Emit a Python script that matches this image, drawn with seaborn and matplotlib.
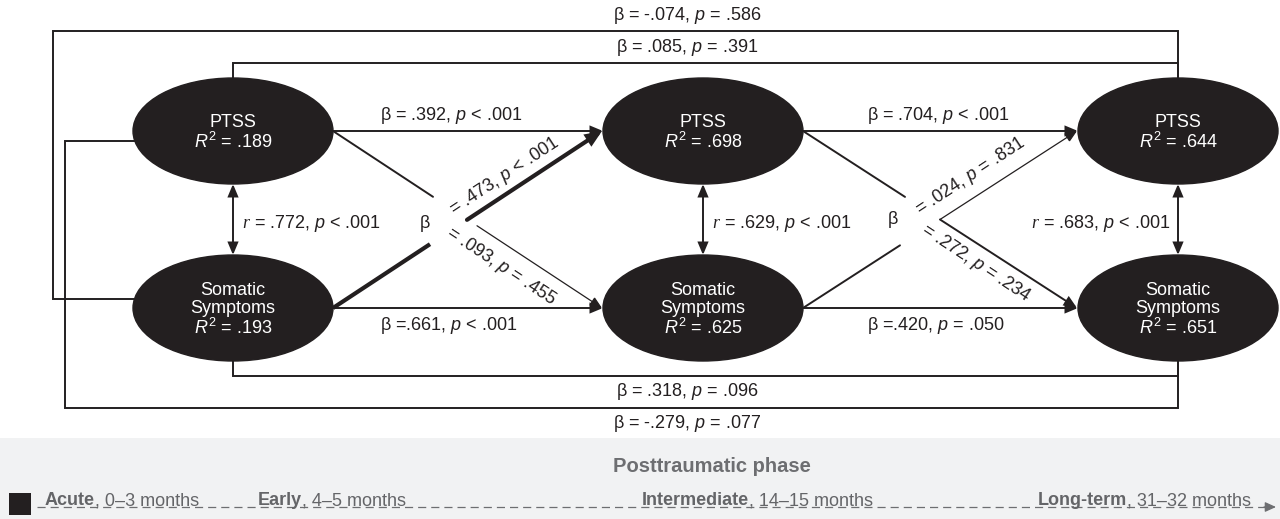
import numpy as np
import pandas as pd
import matplotlib
matplotlib.use("Agg")
import matplotlib.pyplot as plt
from matplotlib.patches import Ellipse, FancyArrowPatch, Rectangle
import seaborn as sns

# ---------------- data ----------------
constructs = ["PTSS", "Somatic\nSymptoms"]
r2_ptss = [".189", ".698", ".644"]
r2_som = [".193", ".625", ".651"]
r_within = [".772", ".629", ".683"]
p_within = ["< .001", "< .001", "< .001"]
ar_ptss_beta = [".392", ".704"]
ar_ptss_p = ["< .001", "< .001"]
ar_som_beta = [".661", ".420"]
ar_som_p = ["< .001", "= .050"]
cross_som_to_ptss_beta = [".473", ".024"]
cross_som_to_ptss_p = ["< .001", "= .831"]
cross_ptss_to_som_beta = [".093", ".272"]
cross_ptss_to_som_p = ["= .455", "= .234"]
long_beta = ["-.074", ".085", ".318", "-.279"]   # Som1->PTSS3, PTSS1->PTSS3, Som1->Som3, PTSS1->Som3
long_p = ["= .586", "= .391", "= .096", "= .077"]
phases = ["Acute", "Early", "Intermediate", "Long-term"]
phase_ranges = ["0–3 months", "4–5 months", "14–15 months", "31–32 months"]
phase_title = "Posttraumatic phase"

# ---------------- style ----------------
sns.set_theme(style="white")
plt.rcParams["font.family"] = ["Liberation Sans", "DejaVu Sans"]
plt.rcParams["mathtext.fontset"] = "custom"
plt.rcParams["mathtext.rm"] = "Liberation Sans"
plt.rcParams["mathtext.it"] = "Liberation Sans:italic"
plt.rcParams["mathtext.bf"] = "Liberation Sans:bold"
plt.rcParams["mathtext.sf"] = "Liberation Serif:italic"

INK = "#231f20"
GREY = "#646568"
FS = 13

fig = plt.figure(figsize=(12.8, 5.19), dpi=100)
ax = fig.add_axes([0, 0, 1, 1])
ax.set_xlim(0, 1280)
ax.set_ylim(519, 0)
ax.axis("off")

# layout
col_x = [233, 703, 1178]
row_y = [131, 308]
EW, EH = 200, 106


def arrow(p0, p1, lw=1.4, style="-|>", z=2):
    a = FancyArrowPatch(p0, p1, arrowstyle=style + ",head_length=0.6,head_width=0.25",
                        mutation_scale=12, shrinkA=0, shrinkB=0, lw=lw, color=INK,
                        zorder=z, joinstyle="miter")
    ax.add_patch(a)


def pt_at_x(p0, p1, x):
    t = (x - p0[0]) / (p1[0] - p0[0])
    return (x, p0[1] + t * (p1[1] - p0[1]))


# ---------------- nodes ----------------
for i, x in enumerate(col_x):
    for j, y in enumerate(row_y):
        ax.add_patch(Ellipse((x, y), EW, EH, facecolor=INK, edgecolor=INK, zorder=3))
        r2 = r2_ptss[i] if j == 0 else r2_som[i]
        ax.text(x, y + 2, f"{constructs[j]}\n$R^2$ = {r2}", color="white", fontsize=FS,
                ha="center", va="center", linespacing=1.05, zorder=4)

# ---------------- long range connectors ----------------
lw_c = 1.4
paths = [
    [(150, 299), (53, 299), (53, 31), (col_x[2], 31), (col_x[2], 100)],
    [(col_x[0], 110), (col_x[0], 63), (col_x[2], 63), (col_x[2], 100)],
    [(col_x[0], 330), (col_x[0], 376), (col_x[2], 376), (col_x[2], 330)],
    [(150, 141), (65, 141), (65, 408), (col_x[2], 408), (col_x[2], 330)],
]
for path in paths:
    xs, ys = zip(*path)
    ax.plot(xs, ys, color=INK, lw=lw_c, zorder=1, solid_joinstyle="miter")

long_y = [15, 47, 392, 424]
for b, p, y in zip(long_beta, long_p, long_y):
    ax.text(687, y, f"β = {b}, $p$ {p}", fontsize=FS, color=INK, ha="center", va="center")

# ---------------- autoregressive paths ----------------
for k in range(2):
    xa = col_x[k] + EW / 2
    xb = col_x[k + 1] - EW / 2
    arrow((xa, row_y[0]), (xb, row_y[0]))
    arrow((xa, row_y[1]), (xb, row_y[1]))
lab_x = [380, 867]
for k in range(2):
    ax.text(lab_x[k], 115, f"β = {ar_ptss_beta[k]}, $p$ {ar_ptss_p[k]}", fontsize=FS,
            color=INK, ha="left", va="center")
    ax.text(lab_x[k], 325, f"β ={ar_som_beta[k]}, $p$ {ar_som_p[k]}", fontsize=FS,
            color=INK, ha="left", va="center")

# ---------------- within-wave correlations ----------------
for i, x in enumerate(col_x):
    arrow((x, row_y[0] + EH / 2), (x, row_y[1] - EH / 2), style="<|-|>")
r_pos = [(242, "left"), (712, "left"), (1170, "right")]
for i, (xx, ha) in enumerate(r_pos):
    ax.text(xx, 223, f"$\\mathsf{{r}}$ = {r_within[i]}, $p$ {p_within[i]}", fontsize=FS,
            color=INK, ha=ha, va="center")

# ---------------- cross-lagged paths ----------------
# wave 1 -> 2
A0, A1 = (333, row_y[0]), (602, row_y[1])   # PTSS1 -> Som2
B0, B1 = (333, row_y[1]), (602, row_y[0])   # Som1 -> PTSS2
ax.plot(*zip(A0, pt_at_x(A0, A1, 433)), color=INK, lw=1.4, zorder=1)
arrow(pt_at_x(A0, A1, 477), A1, lw=0.9)
ax.plot(*zip(B0, pt_at_x(B0, B1, 430)), color=INK, lw=3.0, zorder=1, solid_capstyle="butt")
arrow(pt_at_x(B0, B1, 467), B1, lw=3.0)
# wave 2 -> 3
C0, C1 = (803, row_y[0]), (1077, row_y[1])  # PTSS2 -> Som3
D0, D1 = (803, row_y[1]), (1077, row_y[0])  # Som2 -> PTSS3
ax.plot(*zip(C0, pt_at_x(C0, C1, 905)), color=INK, lw=1.4, zorder=1)
arrow(pt_at_x(C0, C1, 940), C1, lw=1.4)
ax.plot(*zip(D0, pt_at_x(D0, D1, 900)), color=INK, lw=1.4, zorder=1)
arrow(pt_at_x(D0, D1, 940), D1, lw=0.9)

ang_up = np.degrees(np.arctan2(B0[1] - B1[1], B1[0] - B0[0]))
ang_dn = -np.degrees(np.arctan2(A1[1] - A0[1], A1[0] - A0[0]))
beta_pos = [(425, 224), (893, 220)]
up_pos = [(504, 176), (970, 176)]
dn_pos = [(501, 266), (976, 263)]
for k in range(2):
    ax.text(*beta_pos[k], "β", fontsize=FS, color=INK, ha="center", va="center")
    ax.text(*up_pos[k], f"= {cross_som_to_ptss_beta[k]}, $p$ {cross_som_to_ptss_p[k]}",
            fontsize=FS, color=INK, ha="center", va="center", rotation=ang_up,
            rotation_mode="anchor")
    ax.text(*dn_pos[k], f"= {cross_ptss_to_som_beta[k]}, $p$ {cross_ptss_to_som_p[k]}",
            fontsize=FS, color=INK, ha="center", va="center", rotation=ang_dn,
            rotation_mode="anchor")

# ---------------- timeline panel ----------------
ax.add_patch(Rectangle((0, 438), 1280, 81, facecolor="#f1f2f3", edgecolor="none", zorder=0))
ax.text(712, 466, phase_title, fontsize=14.5, fontweight="bold", color="#6d6e71",
        ha="center", va="center")
tl = pd.DataFrame({"x": [37, 1266], "y": [507, 507]})
sns.lineplot(data=tl, x="x", y="y", ax=ax, color="#6d6e71", lw=0.9,
             linestyle=(0, (6.5, 4)), zorder=1)
arr = FancyArrowPatch((1264, 507), (1276, 507), arrowstyle="-|>,head_length=0.55,head_width=0.25",
                      mutation_scale=12, shrinkA=0, shrinkB=0, lw=0.9, color="#6d6e71")
ax.add_patch(arr)
sq = pd.DataFrame({"x": [20], "y": [504]})
sns.scatterplot(data=sq, x="x", y="y", ax=ax, marker="s", s=270, color=INK,
                edgecolor="none", zorder=3)
ph_x = [45, 258, 642, 1038]
for name, rng, x in zip(phases, phase_ranges, ph_x):
    t = ax.text(x, 505, name, fontsize=FS, fontweight="bold", color=GREY,
                ha="left", va="baseline")
    ax.annotate(", " + rng, xy=(1, 0), xycoords=t, fontsize=FS, color=GREY,
                ha="left", va="bottom")

ax.set_xlim(0, 1280)
ax.set_ylim(519, 0)
ax.axis("off")
fig.savefig("out.png", dpi=100)
